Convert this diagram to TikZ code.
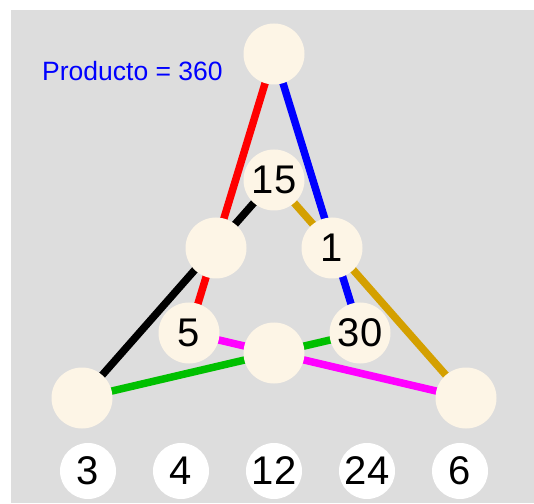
\documentclass[tikz,border=0pt]{standalone}
\usepackage{fontspec}
\setmainfont{Liberation Sans}
\pgfdeclarelayer{bgl}
\pgfdeclarelayer{linel}
\pgfsetlayers{bgl,linel,main}
\definecolor{bggray}{HTML}{DDDDDD}
\definecolor{cream}{HTML}{FDF5E6}
\definecolor{gold}{HTML}{D4A000}
\definecolor{grn}{HTML}{00C000}
\definecolor{mag}{HTML}{FF00FF}
\definecolor{rd}{HTML}{FF0000}
\definecolor{bl}{HTML}{0000FF}
\tikzset{
  dot/.style={circle, fill=cream, minimum size=61pt, inner sep=0pt, font=\fontsize{40}{42}\selectfont},
  wdot/.style={circle, fill=white, minimum size=56pt, inner sep=0pt, font=\fontsize{40}{42}\selectfont},
  edge/.style={line width=7.5pt},
}
\begin{document}
\begin{tikzpicture}[x=1pt,y=1pt]
\useasboundingbox (0,0) rectangle (534,503);
\begin{pgfonlayer}{bgl}
\fill[bggray] (11,0) rectangle (534,493);
\end{pgfonlayer}
\node[dot] (top) at (274,449) {};
\node[dot] (n15) at (274,323) {15};
\node[dot] (lm) at (216,255) {};
\node[dot] (n1) at (332,255) {1};
\node[dot] (n5) at (189,170) {5};
\node[dot] (n30) at (360,170) {30};
\node[dot] (cb) at (274,150) {};
\node[dot] (bleft) at (82,105) {};
\node[dot] (bright) at (466,105) {};
\node[wdot] (w3) at (88,32) {3};
\node[wdot] (w4) at (181,32) {4};
\node[wdot] (w12) at (274,32) {12};
\node[wdot] (w24) at (367,32) {24};
\node[wdot] (w6) at (460,32) {6};
\node[anchor=base west, text=bl, font=\fontsize{26.5}{28}\selectfont, inner sep=0pt] (prod) at (42,422) {Producto = 360};
\begin{pgfonlayer}{linel}
\draw[edge, rd] (top.center) -- (n5.center);
\draw[edge, bl] (top.center) -- (n30.center);
\draw[edge, black] (n15.center) -- (bleft.center);
\draw[edge, gold] (n15.center) -- (bright.center);
\draw[edge, grn] (bleft.center) -- (n30.center);
\draw[edge, mag] (n5.center) -- (bright.center);
\end{pgfonlayer}
\end{tikzpicture}
\end{document}
